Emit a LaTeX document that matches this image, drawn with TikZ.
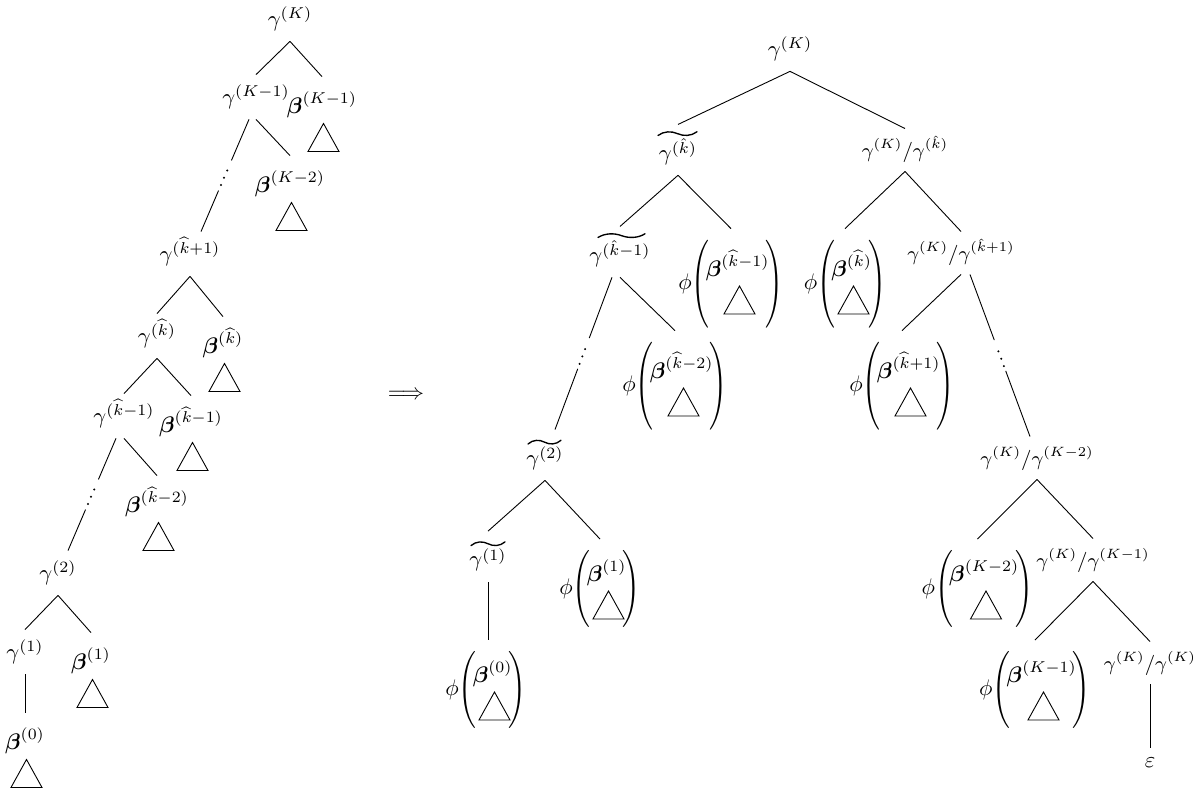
\documentclass[tikz,border=0pt]{standalone}
\usepackage{amsmath}
\usepackage{mathtools}
\usepackage{graphicx}
\usetikzlibrary{calc}
\newcommand\phib[2]{$\phi\vcenter{\hbox{\scalebox{1}[#2]{$\Bigg($}}}\mkern-3mu\hbox{\ooalign{\hfil\raisebox{6pt}{$\boldsymbol{\beta}^{(#1)}$}\hfil\cr\hfil\hspace{14pt}\hfil\cr}}\mkern-3mu\vcenter{\hbox{\scalebox{1}[#2]{$\Bigg)$}}}$}
\newcommand\skipedge[2]{%
  \draw ($(#1)$) -- ($(#1)!0.5!(#2)!7.3pt!(#1)$);
  \draw ($(#1)!0.5!(#2)!7.3pt!(#2)$) -- ($(#2)$);
  \fill ($(#1)!0.52!(#2)$) circle[radius=0.5pt];
  \fill ($(#1)!0.52!(#2)!3.5pt!(#1)$) circle[radius=0.5pt];
  \fill ($(#1)!0.52!(#2)!3.5pt!(#2)$) circle[radius=0.5pt];}
\begin{document}
\begin{tikzpicture}[x=0.4444pt,y=-0.4444pt,
  lbl/.style={inner xsep=0pt,inner ysep=4pt,text height=9pt,text depth=2.5pt},
  blbl/.style={inner xsep=0pt,inner ysep=7.1pt,text height=9pt,text depth=2.5pt},
  tlbl/.style={inner xsep=0pt,inner ysep=4.1pt,text height=11.5pt,text depth=2.5pt},
  qlbl/.style={inner xsep=0pt,inner ysep=3.6pt,text height=9pt,text depth=2.5pt,font=\small},
  plbl/.style={inner xsep=0pt,inner ysep=4.9pt},
  leaf/.style={inner xsep=0pt,inner ysep=4.4pt},
  tri/.pic={\draw (0,0) -- (-15.5,28) -- (15.5,28) -- cycle;},
  tld/.pic={\draw[line width=0.6pt,line cap=round] (0,0) .. controls (0.15,-4.5) and (0.35,-4.5) .. (0.5,-1.85) .. controls (0.65,0.8) and (0.85,0.8) .. (1,-3.7);}]
\useasboundingbox (0,0) rectangle (1204,791);
% ---------- left tree ----------
\node[lbl]  (gK)   at (290,19)  {$\gamma^{(K)}$};
\node[lbl]  (gK1)  at (256,97)  {$\gamma^{(K-1)}$};
\node[blbl] (bK1)  at (322,106) {$\boldsymbol{\beta}^{(K-1)}$};
\node[blbl] (bK2)  at (290,185) {$\boldsymbol{\beta}^{(K-2)}$};
\node[lbl]  (gk1p) at (190,254) {$\gamma^{(\widehat{k}+1)}$};
\node[lbl]  (gk)   at (157,336) {$\gamma^{(\widehat{k})}$};
\node[blbl] (bk)   at (223,346) {$\boldsymbol{\beta}^{(\widehat{k})}$};
\node[lbl]  (gkm1) at (124,416) {$\gamma^{(\widehat{k}-1)}$};
\node[blbl] (bkm1) at (191,425) {$\boldsymbol{\beta}^{(\widehat{k}-1)}$};
\node[blbl] (bkm2) at (157,505) {$\boldsymbol{\beta}^{(\widehat{k}-2)}$};
\node[lbl]  (g2)   at (58,573)  {$\gamma^{(2)}$};
\node[lbl]  (g1)   at (25,652)  {$\gamma^{(1)}$};
\node[blbl] (b1)   at (91,662)  {$\boldsymbol{\beta}^{(1)}$};
\node[blbl] (b0)   at (25,742)  {$\boldsymbol{\beta}^{(0)}$};
\foreach \b in {bK1,bK2,bk,bkm1,bkm2,b1,b0} \pic at ($(\b)+(1.5,17.5)$) {tri};
\draw (gK.south) -- (gK1.north);
\draw (gK.south) -- (bK1.north);
\coordinate (s1) at ($(gK1.south)+(-7,0)$);
\coordinate (e1) at ($(gk1p.north)+(11,0)$);
\skipedge{s1}{e1}
\draw (gK1.south) -- (bK2.north);
\draw (gk1p.south) -- (gk.north);
\draw (gk1p.south) -- (bk.north);
\draw (gk.south) -- (gkm1.north);
\draw (gk.south) -- (bkm1.north);
\coordinate (s2) at ($(gkm1.south)+(-8,0)$);
\coordinate (e2) at ($(g2.north)+(10,0)$);
\skipedge{s2}{e2}
\draw (gkm1.south) -- (bkm2.north);
\draw (g2.south) -- (g1.north);
\draw (g2.south) -- (b1.north);
\draw (g1.south) -- (b0.north);
% ---------- arrow ----------
\node (arr) at (406,395) {$\Longrightarrow$};
% ---------- right tree ----------
\node[lbl]  (RgK)  at (790,49)    {$\gamma^{(K)}$};
\node[tlbl] (tk)   at (678,149.9) {$\cramped{\gamma^{(\hat{k})}}$};
\node[qlbl] (q1)   at (905,150)   {$\gamma^{(K)}/\gamma^{(\hat{k})}$};
\node[tlbl] (tkm1) at (620,251.9) {$\cramped{\gamma^{(\hat{k}-1)}}$};
\node[plbl] (P1)   at (731,284)   {\phib{\widehat{k}-1}{1.30}};
\node[plbl] (P2)   at (845,284)   {\phib{\widehat{k}}{1.30}};
\node[qlbl] (q2)   at (961,253)   {$\gamma^{(K)}/\gamma^{(\hat{k}+1)}$};
\node[plbl] (P3)   at (675,386)   {\phib{\widehat{k}-2}{1.30}};
\node[plbl] (P4)   at (902,386)   {\phib{\widehat{k}+1}{1.30}};
\node[tlbl] (t2)   at (545,455)   {$\cramped{\gamma^{(2)}}$};
\node[qlbl] (q3)   at (1037,458)  {$\gamma^{(K)}/\gamma^{(K-2)}$};
\node[tlbl] (t1)   at (488,556.6) {$\cramped{\gamma^{(1)}}$};
\node[plbl] (P5)   at (600,589)   {\phib{1}{1.14}};
\node[plbl] (P7)   at (977.5,589) {\phib{K-2}{1.14}};
\node[qlbl] (q4)   at (1093,560)  {$\gamma^{(K)}/\gamma^{(K-1)}$};
\node[plbl] (P6)   at (486,690)   {\phib{0}{1.14}};
\node[plbl] (P8)   at (1035,690)  {\phib{K-1}{1.14}};
\node[qlbl] (q5)   at (1150,663)  {$\gamma^{(K)}/\gamma^{(K)}$};
\node[leaf] (eps)  at (1150,763)  {$\varepsilon$};
% wide tildes over the tilde-labels
\pic[xscale=39] at ($(tk)+(-20,-14.4)$) {tld};
\pic[xscale=47] at ($(tkm1)+(-22,-14.4)$) {tld};
\pic[xscale=33] at ($(t2)+(-17,-11)$) {tld};
\pic[xscale=34] at ($(t1)+(-17,-11)$) {tld};
\foreach \p in {P1,P2,P3,P4,P5,P6,P7,P8} \pic at ($(\p)+(8.5,2)$) {tri};
\draw (RgK.south) -- (tk.north);
\draw (RgK.south) -- (q1.north);
\draw (tk.south) -- (tkm1.north);
\draw (tk.south) -- (P1.north);
\draw (q1.south) -- (P2.north);
\draw (q1.south) -- (q2.north);
\coordinate (s3) at ($(tkm1.south)+(-8,0)$);
\coordinate (e3) at ($(t2.north)+(10,0)$);
\skipedge{s3}{e3}
\draw (tkm1.south) -- (P3.north);
\draw (q2.south) -- (P4.north);
\coordinate (s4) at ($(q2.south)+(9,0)$);
\coordinate (e4) at ($(q3.north)+(-7,0)$);
\skipedge{s4}{e4}
\draw (t2.south) -- (t1.north);
\draw (t2.south) -- (P5.north);
\draw (t1.south) -- (t1.south |- P6.north);
\draw (q3.south) -- (P7.north);
\draw (q3.south) -- (q4.north);
\draw (q4.south) -- (P8.north);
\draw (q4.south) -- (q5.north);
\draw (q5.south) -- (eps.north);
\end{tikzpicture}
\end{document}
